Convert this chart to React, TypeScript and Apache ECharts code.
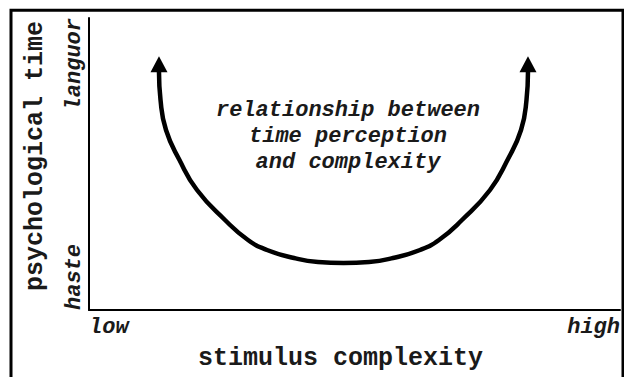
import React, { useEffect, useRef } from "react";
import * as echarts from "echarts";

const X_TICKS = ["low", "high"];
const Y_TICKS = ["haste", "languor"];
const X_NAME = "stimulus complexity";
const Y_NAME = "psychological time";
const NOTE = ["relationship between", "time perception", "and complexity"];

// U-shaped curve (0..100 on both axes)
const CURVE_X = [13.18, 13.47, 14.5, 17.04, 20.34, 25.61, 29.94, 33.52, 38.61, 43.13, 47.93, 52.73, 57.25, 62.34, 65.91, 70.24, 75.52, 78.81, 81.36, 82.39, 82.67];
const CURVE_Y = [81.51, 71.92, 61.64, 51.37, 41.1, 30.82, 23.97, 20.55, 17.81, 16.44, 16.1, 16.44, 17.81, 20.55, 23.97, 30.82, 41.1, 51.37, 61.64, 71.92, 81.51];
// arrow heads at both ends
const ARROW_X = [13.18, 82.67];
const ARROW_Y = [84.2, 84.2];

const FONT = "'Liberation Mono', 'Courier New', monospace";
const INK = "#1a1a1a";

export default function App() {
  const ref = useRef<HTMLDivElement>(null);
  useEffect(() => {
    if (!ref.current) return;
    const chart = echarts.init(ref.current, undefined, { renderer: "svg" });
    chart.setOption({
      animation: false,
      backgroundColor: "#ffffff",
      grid: { left: 89, right: 4, top: 18, bottom: 67 },
      xAxis: {
        type: "value",
        min: 0,
        max: 100,
        interval: 100,
        name: X_NAME,
        nameLocation: "middle",
        nameGap: 36,
        nameTextStyle: {
          fontFamily: FONT,
          fontWeight: "bold",
          fontSize: 25,
          color: INK,
          padding: [0, 28, 0, 0],
        },
        axisLine: { show: true, lineStyle: { color: "#000", width: 2 } },
        axisTick: { show: false },
        splitLine: { show: false },
        axisLabel: {
          margin: 6,
          fontFamily: FONT,
          fontWeight: "bold",
          fontStyle: "italic",
          fontSize: 22,
          color: INK,
          alignMinLabel: "left",
          alignMaxLabel: "right",
          formatter: (v: number) => (v === 0 ? X_TICKS[0] : X_TICKS[1]),
        },
      },
      yAxis: {
        type: "value",
        min: 0,
        max: 100,
        interval: 100,
        name: Y_NAME,
        nameLocation: "middle",
        nameGap: 41,
        nameTextStyle: {
          fontFamily: FONT,
          fontWeight: "bold",
          fontSize: 25,
          color: INK,
          padding: [0, 0, 0, 16],
        },
        axisLine: { show: true, lineStyle: { color: "#000", width: 2 } },
        axisTick: { show: false },
        splitLine: { show: false },
        axisLabel: {
          rotate: 90,
          margin: 4,
          fontFamily: FONT,
          fontWeight: "bold",
          fontStyle: "italic",
          fontSize: 22,
          color: INK,
          alignMinLabel: "left",
          alignMaxLabel: "right",
          formatter: (v: number) => (v === 0 ? Y_TICKS[0] : Y_TICKS[1]),
        },
      },
      series: [
        {
          type: "line",
          data: CURVE_X.map((x, i) => [x, CURVE_Y[i]]),
          smooth: 0.5,
          showSymbol: false,
          lineStyle: { color: "#000", width: 4.5 },
          silent: true,
        },
        {
          type: "scatter",
          data: ARROW_X.map((x, i) => [x, ARROW_Y[i]]),
          symbol: "triangle",
          symbolSize: [17, 16],
          itemStyle: { color: "#000", opacity: 1 },
          silent: true,
        },
      ],
      graphic: [
        {
          type: "rect",
          shape: { x: 11, y: 10.3, width: 612, height: 400 },
          style: { fill: "none", stroke: "#000", lineWidth: 3 },
          silent: true,
        },
        {
          type: "text",
          x: 348,
          y: 136,
          style: {
            text: NOTE.join("\n"),
            fontFamily: FONT,
            fontWeight: "bold",
            fontStyle: "italic",
            fontSize: 22,
            lineHeight: 26,
            fill: INK,
            align: "center",
            verticalAlign: "middle",
          },
          silent: true,
        },
      ],
    });
    return () => chart.dispose();
  }, []);
  return (
    <div
      ref={ref}
      style={{ position: "fixed", left: 0, top: 0, width: 624, height: 377 }}
    />
  );
}
